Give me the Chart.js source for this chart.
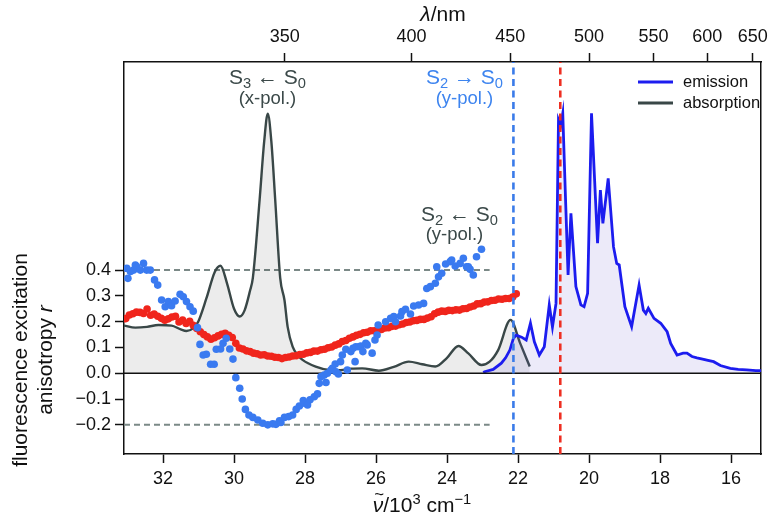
<!DOCTYPE html>
<html>
<head>
<meta charset="utf-8">
<script src="https://cdn.jsdelivr.net/npm/chart.js@4.4.0/dist/chart.umd.min.js"></script>
<style>
  html, body { margin: 0; padding: 0; background: #fff; }
</style>
</head>
<body>
<canvas id="grafico" width="773" height="521"></canvas>
<script>
// absorcao (linha cinza com preenchimento)
const absorcaoX = [33.1, 32.78, 32.45, 32.13, 31.76, 31.5, 31.34, 31.15, 31.01, 30.78, 30.54, 30.38, 30.2, 30.0, 29.84, 29.7, 29.55, 29.47, 29.28, 29.15, 29.05, 28.95, 28.84, 28.7, 28.58, 28.49, 28.35, 28.2, 28.07, 27.7, 27.32, 27.0, 26.7, 26.39, 25.92, 25.5, 25.08, 24.7, 24.33, 24.0, 23.68, 23.4, 23.03, 22.8, 22.56, 22.21, 21.95, 21.67];
const absorcaoY = [0.185, 0.177, 0.18, 0.187, 0.185, 0.17, 0.164, 0.175, 0.2, 0.29, 0.394, 0.417, 0.35, 0.25, 0.22, 0.245, 0.32, 0.37, 0.672, 0.9, 1.007, 0.9, 0.672, 0.37, 0.284, 0.18, 0.103, 0.07, 0.052, 0.026, 0.013, 0.012, 0.018, 0.019, 0.01, 0.025, 0.045, 0.035, 0.026, 0.06, 0.106, 0.077, 0.032, 0.045, 0.09, 0.207, 0.12, 0.026];

// emissao (linha azul)
const emissaoX = [22.98, 22.94, 22.7, 22.47, 22.35, 22.23, 22.13, 22.05, 21.9, 21.77, 21.65, 21.54, 21.4, 21.26, 21.12, 21.03, 20.93, 20.86, 20.8, 20.74, 20.67, 20.59, 20.51, 20.37, 20.23, 20.14, 20.04, 19.93, 19.76, 19.68, 19.61, 19.46, 19.31, 19.22, 19.15, 18.99, 18.8, 18.59, 18.47, 18.4, 18.33, 18.17, 17.98, 17.8, 17.7, 17.52, 17.35, 17.24, 17.1, 16.96, 16.8, 16.65, 16.49, 16.3, 16.02, 15.8, 15.56, 15.3, 15.14];
const emissaoY = [0.003, 0.006, 0.015, 0.039, 0.06, 0.09, 0.135, 0.148, 0.14, 0.129, 0.194, 0.122, 0.071, 0.103, 0.265, 0.18, 0.271, 0.982, 0.96, 1.008, 0.71, 0.381, 0.62, 0.336, 0.265, 0.258, 0.31, 1.008, 0.504, 0.71, 0.581, 0.756, 0.49, 0.426, 0.42, 0.258, 0.181, 0.342, 0.245, 0.232, 0.252, 0.213, 0.194, 0.161, 0.116, 0.071, 0.078, 0.078, 0.065, 0.06, 0.055, 0.05, 0.045, 0.03, 0.019, 0.015, 0.013, 0.01, 0.01];

// anisotropia (pontos vermelhos)
const vermelhoX = [33.05, 32.95, 32.85, 32.75, 32.65, 32.55, 32.45, 32.35, 32.25, 32.15, 32.05, 31.95, 31.85, 31.75, 31.65, 31.55, 31.45, 31.35, 31.25, 31.15, 31.05, 30.95, 30.85, 30.75, 30.65, 30.55, 30.45, 30.35, 30.25, 30.15, 30.05, 29.95, 29.85, 29.75, 29.65, 29.55, 29.45, 29.35, 29.25, 29.15, 29.05, 28.95, 28.85, 28.75, 28.65, 28.55, 28.45, 28.35, 28.25, 28.15, 28.05, 27.95, 27.85, 27.75, 27.65, 27.55, 27.45, 27.35, 27.25, 27.15, 27.05, 26.95, 26.85, 26.75, 26.65, 26.55, 26.45, 26.35, 26.25, 26.15, 26.05, 25.95, 25.85, 25.75, 25.65, 25.55, 25.45, 25.35, 25.25, 25.15, 25.05, 24.95, 24.85, 24.75, 24.65, 24.55, 24.45, 24.35, 24.25, 24.15, 24.05, 23.95, 23.85, 23.75, 23.65, 23.55, 23.45, 23.35, 23.25, 23.15, 23.05, 22.95, 22.85, 22.75, 22.65, 22.55, 22.45, 22.35, 22.25, 22.15, 22.05];
const vermelhoY = [0.212, 0.226, 0.231, 0.237, 0.236, 0.232, 0.249, 0.225, 0.23, 0.221, 0.213, 0.206, 0.211, 0.218, 0.221, 0.199, 0.206, 0.193, 0.202, 0.186, 0.174, 0.161, 0.15, 0.141, 0.132, 0.138, 0.145, 0.151, 0.155, 0.147, 0.139, 0.116, 0.098, 0.094, 0.087, 0.084, 0.078, 0.076, 0.071, 0.072, 0.067, 0.066, 0.062, 0.061, 0.057, 0.061, 0.063, 0.067, 0.068, 0.073, 0.074, 0.079, 0.081, 0.086, 0.086, 0.091, 0.093, 0.099, 0.102, 0.109, 0.114, 0.123, 0.127, 0.136, 0.141, 0.147, 0.151, 0.157, 0.159, 0.165, 0.165, 0.169, 0.17, 0.176, 0.177, 0.182, 0.183, 0.188, 0.191, 0.197, 0.199, 0.204, 0.205, 0.209, 0.209, 0.214, 0.219, 0.231, 0.237, 0.241, 0.24, 0.244, 0.243, 0.246, 0.245, 0.25, 0.251, 0.257, 0.261, 0.269, 0.27, 0.276, 0.277, 0.282, 0.283, 0.288, 0.287, 0.29, 0.29, 0.296, 0.308];

// anisotropia (pontos azuis)
const azulX = [33.02, 32.99, 32.92, 32.83, 32.78, 32.74, 32.64, 32.55, 32.46, 32.36, 32.24, 32.15, 32.04, 31.94, 31.85, 31.76, 31.66, 31.52, 31.43, 31.34, 31.24, 31.15, 31.03, 30.96, 30.87, 30.78, 30.66, 30.56, 30.5, 30.38, 30.31, 30.22, 30.12, 30.03, 29.95, 29.84, 29.77, 29.68, 29.58, 29.47, 29.33, 29.19, 29.05, 28.91, 28.82, 28.72, 28.68, 28.58, 28.46, 28.35, 28.25, 28.16, 28.05, 28.02, 27.93, 27.86, 27.74, 27.65, 27.6, 27.55, 27.46, 27.41, 27.37, 27.27, 27.23, 27.15, 27.13, 27.06, 27.0, 26.95, 26.85, 26.81, 26.71, 26.65, 26.59, 26.57, 26.48, 26.43, 26.37, 26.29, 26.25, 26.11, 26.03, 25.97, 25.94, 25.73, 25.59, 25.5, 25.45, 25.31, 25.27, 25.17, 25.03, 24.94, 24.8, 24.66, 24.57, 24.47, 24.33, 24.29, 24.24, 24.15, 24.04, 23.91, 23.87, 23.77, 23.63, 23.54, 23.45, 23.4, 23.35, 23.26, 23.17, 23.03];
const azulY = [0.407, 0.368, 0.395, 0.4, 0.42, 0.413, 0.4, 0.426, 0.4, 0.4, 0.362, 0.342, 0.284, 0.258, 0.278, 0.262, 0.28, 0.306, 0.297, 0.278, 0.258, 0.241, 0.177, 0.112, 0.071, 0.074, 0.035, 0.035, 0.093, 0.094, 0.116, 0.136, 0.094, 0.055, -0.017, -0.058, -0.1, -0.14, -0.162, -0.171, -0.181, -0.194, -0.2, -0.196, -0.198, -0.184, -0.191, -0.171, -0.168, -0.162, -0.14, -0.127, -0.106, -0.116, -0.123, -0.103, -0.091, -0.08, -0.039, -0.013, -0.007, -0.036, 0.0, 0.013, 0.019, 0.036, 0.006, -0.003, 0.045, 0.071, 0.093, 0.013, 0.084, 0.097, 0.045, 0.103, 0.103, 0.106, 0.084, 0.116, 0.11, 0.078, 0.129, 0.148, 0.187, 0.2, 0.213, 0.22, 0.2, 0.222, 0.239, 0.248, 0.23, 0.261, 0.265, 0.271, 0.329, 0.336, 0.349, 0.413, 0.374, 0.388, 0.424, 0.433, 0.439, 0.416, 0.426, 0.446, 0.413, 0.413, 0.403, 0.381, 0.452, 0.481];

// eixos
const ticksX = [32, 30, 28, 26, 24, 22, 20, 18, 16];
const ticksLambda = [350, 400, 450, 500, 550, 600, 650];
const ticksY = [-0.2, -0.1, 0.0, 0.1, 0.2, 0.3, 0.4];
const xMin = 15.15, xMax = 33.1;
const yMin = -0.313, yMax = 1.207;

// linhas de referencia
const linhaAzul = 22.13;
const linhaVermelha = 20.81;
const nivelAlto = 0.4;
const nivelBaixo = -0.2;
const fimTracejado = 22.8;

const FAMILIA = '"Liberation Sans", Arial, sans-serif';
Chart.defaults.font.family = FAMILIA;

function juntar(xs, ys) {
  return xs.map(function (x, i) { return { x: x, y: ys[i] }; });
}

function fonte(tam, italico) {
  return (italico ? "italic " : "") + tam + "px " + FAMILIA;
}

// desenha texto com subscrito/sobrescrito, centrado em xc
function desenharPartes(ctx, partes, xc, y, tam, cor) {
  var larguras = partes.map(function (p) {
    ctx.font = fonte(p.sub || p.sup ? tam * 0.7 : tam, p.it);
    return ctx.measureText(p.t).width;
  });
  var total = larguras.reduce(function (a, b) { return a + b; }, 0);
  var x = xc - total / 2;
  ctx.fillStyle = cor;
  ctx.textAlign = "left";
  ctx.textBaseline = "alphabetic";
  partes.forEach(function (p, i) {
    var t = p.sub || p.sup ? tam * 0.7 : tam;
    ctx.font = fonte(t, p.it);
    var dy = p.sub ? tam * 0.2 : (p.sup ? -tam * 0.4 : 0);
    ctx.fillText(p.t, x, y + dy);
    if (p.til) {
      ctx.font = fonte(tam * 0.8, false);
      ctx.textAlign = "center";
      ctx.fillText("~", x + larguras[i] / 2 + 1, y - tam * 0.55);
      ctx.textAlign = "left";
    }
    x += larguras[i];
  });
}

const textos = {
  id: "textos",
  afterDraw(chart) {
    const ctx = chart.ctx;
    const sx = chart.scales.x;
    const cinza = "#3b4949";
    const azul = "#3d84ef";
    ctx.save();

    // anotacoes
    desenharPartes(ctx, [{ t: "S" }, { t: "3", sub: true }, { t: " \u2190 S" }, { t: "0", sub: true }], sx.getPixelForValue(29.06), 84, 21, cinza);
    desenharPartes(ctx, [{ t: "(x-pol.)" }], sx.getPixelForValue(29.06), 104, 18.5, cinza);
    desenharPartes(ctx, [{ t: "S" }, { t: "2", sub: true }, { t: " \u2192 S" }, { t: "0", sub: true }], sx.getPixelForValue(23.51), 84, 21, azul);
    desenharPartes(ctx, [{ t: "(y-pol.)" }], sx.getPixelForValue(23.51), 104, 18.5, azul);
    desenharPartes(ctx, [{ t: "S" }, { t: "2", sub: true }, { t: " \u2190 S" }, { t: "0", sub: true }], sx.getPixelForValue(23.65), 221, 21, cinza);
    desenharPartes(ctx, [{ t: "(y-pol.)" }], sx.getPixelForValue(23.79), 240, 18.5, cinza);

    // legenda
    ctx.lineWidth = 2.8;
    ctx.strokeStyle = "#1c1cef";
    ctx.beginPath(); ctx.moveTo(638, 82); ctx.lineTo(673, 82); ctx.stroke();
    ctx.strokeStyle = "#394747";
    ctx.beginPath(); ctx.moveTo(638, 103); ctx.lineTo(673, 103); ctx.stroke();
    ctx.fillStyle = "#111";
    ctx.font = fonte(16.5, false);
    ctx.textAlign = "left";
    ctx.textBaseline = "middle";
    ctx.fillText("emission", 683, 82);
    ctx.fillText("absorption", 683, 103);

    // titulos dos eixos
    desenharPartes(ctx, [{ t: "\u03bb", it: true }, { t: "/nm" }], 443, 21, 21, "#111");
    desenharPartes(ctx, [{ t: "\u03bd", it: true, til: true }, { t: "/10" }, { t: "3", sup: true }, { t: " cm" }, { t: "\u22121", sup: true }], 422, 512, 21, "#111");

    ctx.save();
    ctx.translate(0, 360);
    ctx.rotate(-Math.PI / 2);
    desenharPartes(ctx, [{ t: "fluorescence excitation" }], 0, 27, 21, "#111");
    desenharPartes(ctx, [{ t: "anisotropy " }, { t: "r", it: true }], 0, 52, 21, "#111");
    ctx.restore();

    ctx.restore();
  }
};

const grafico = new Chart(document.getElementById("grafico"), {
  type: "scatter",
  data: {
    datasets: [
      {
        label: "linha vermelha",
        data: [{ x: linhaVermelha, y: yMin }, { x: linhaVermelha, y: yMax }],
        showLine: true, pointRadius: 0, borderColor: "#ee2f22", borderWidth: 2.6, borderDash: [7, 4.5],
      },
      {
        label: "linha azul",
        data: [{ x: linhaAzul, y: yMin }, { x: linhaAzul, y: yMax }],
        showLine: true, pointRadius: 0, borderColor: "#3a7be9", borderWidth: 2.6, borderDash: [7, 4.5],
      },
      {
        label: "anisotropia azul",
        data: juntar(azulX, azulY),
        pointRadius: 3.8, pointBorderWidth: 0, pointBackgroundColor: "#3a7af0", borderColor: "#3a7af0",
      },
      {
        label: "anisotropia vermelha",
        data: juntar(vermelhoX, vermelhoY),
        pointRadius: 3.8, pointBorderWidth: 0, pointBackgroundColor: "#f0251c", borderColor: "#f0251c",
      },
      {
        label: "zero",
        data: [{ x: xMax, y: 0 }, { x: xMin, y: 0 }],
        showLine: true, pointRadius: 0, borderColor: "#111", borderWidth: 1.5,
      },
      {
        label: "emission",
        data: juntar(emissaoX, emissaoY),
        showLine: true, pointRadius: 0, borderColor: "#1c1cef", borderWidth: 2.8,
        fill: "origin", backgroundColor: "rgba(110, 90, 210, 0.13)", tension: 0,
      },
      {
        label: "absorption",
        data: juntar(absorcaoX, absorcaoY),
        showLine: true, pointRadius: 0, borderColor: "#394747", borderWidth: 2.4,
        fill: "origin", backgroundColor: "rgba(0, 0, 0, 0.075)", cubicInterpolationMode: "monotone",
      },
      {
        label: "nivel alto",
        data: [{ x: xMax, y: nivelAlto }, { x: fimTracejado, y: nivelAlto }],
        showLine: true, pointRadius: 0, borderColor: "#7b8987", borderWidth: 2, borderDash: [6, 4],
      },
      {
        label: "nivel baixo",
        data: [{ x: xMax, y: nivelBaixo }, { x: fimTracejado, y: nivelBaixo }],
        showLine: true, pointRadius: 0, borderColor: "#7b8987", borderWidth: 2, borderDash: [6, 4],
      },
    ],
  },
  options: {
    responsive: false,
    animation: false,
    layout: { padding: { right: 9 } },
    plugins: { legend: { display: false }, tooltip: { enabled: false } },
    scales: {
      x: {
        type: "linear", position: "bottom", reverse: true, min: xMin, max: xMax,
        afterFit: function (s) { s.height = 67; },
        afterBuildTicks: function (s) { s.ticks = ticksX.map(function (v) { return { value: v }; }); },
        ticks: { color: "#111", font: { size: 18 }, padding: 5, maxRotation: 0 },
        grid: { drawOnChartArea: false, tickLength: 9, color: "#111", tickWidth: 1.5 },
        border: { color: "#111", width: 1.5 },
      },
      x2: {
        type: "linear", position: "top", reverse: true, min: xMin, max: xMax,
        afterFit: function (s) { s.height = 62; },
        afterBuildTicks: function (s) { s.ticks = ticksLambda.map(function (l) { return { value: 1e4 / l }; }); },
        ticks: {
          color: "#111", font: { size: 18 }, padding: 5, maxRotation: 0,
          callback: function (v) { return Math.round(1e4 / v); },
        },
        grid: { drawOnChartArea: false, tickLength: 9, color: "#111", tickWidth: 1.5 },
        border: { color: "#111", width: 1.5 },
      },
      y: {
        type: "linear", position: "left", min: yMin, max: yMax,
        afterFit: function (s) { s.width = 124; },
        afterBuildTicks: function (s) { s.ticks = ticksY.map(function (v) { return { value: v }; }); },
        ticks: {
          color: "#111", font: { size: 18 }, padding: 4,
          callback: function (v) { return (v < -1e-9 ? "\u2212" : "") + Math.abs(v).toFixed(1); },
        },
        grid: { drawOnChartArea: false, tickLength: 9, color: "#111", tickWidth: 1.5 },
        border: { color: "#111", width: 1.5 },
      },
      y2: {
        type: "linear", position: "right", min: yMin, max: yMax,
        afterFit: function (s) { s.width = 0; },
        ticks: { display: false },
        grid: { drawOnChartArea: false, drawTicks: false },
        border: { color: "#111", width: 1.5 },
      },
    },
  },
  plugins: [textos],
});
</script>
</body>
</html>
